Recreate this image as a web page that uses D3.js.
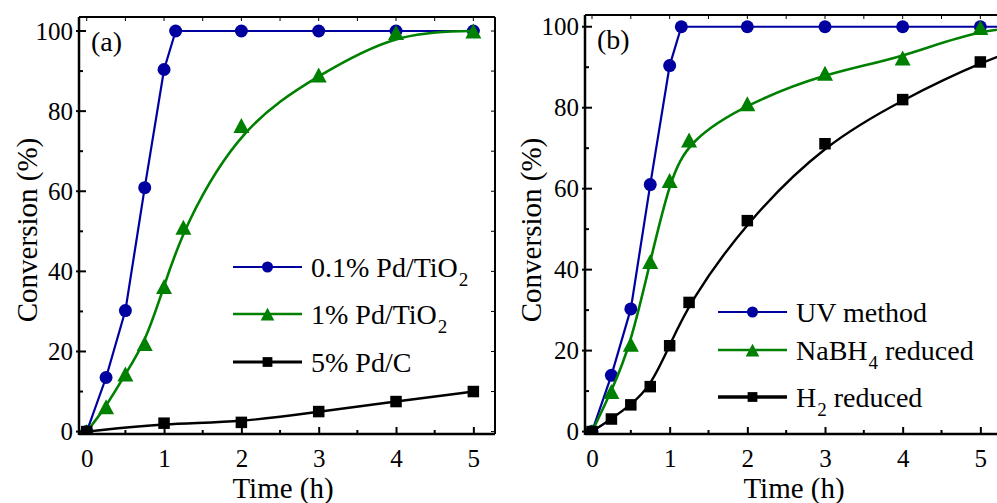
<!DOCTYPE html>
<html><head><meta charset="utf-8">
<script src="https://cdn.jsdelivr.net/npm/d3@7"></script>
<style>body{margin:0;background:#fff}svg{display:block}text{font-family:"Liberation Serif","Times New Roman",serif;fill:#000}</style>
</head><body><svg id="c" width="997" height="503"></svg>
<script>
// Panel (a)
const timeA = [0, 0.25, 0.5, 0.75, 1, 1.15, 2, 3, 4, 5];
const pd01A = [0, 13.5, 30.2, 60.9, 90.4, 100, 100, 100, 100, 100];
const timeA2 = [0, 0.25, 0.5, 0.75, 1, 1.25, 2, 3, 4, 5];
const pd1A = [0, 6.2, 14.4, 22, 36.2, 51, 76.4, 89, 99.6, 100];
const timeA3 = [0, 1, 2, 3, 4, 5];
const pdcA = [0, 2.1, 2.3, 5, 7.5, 10];
const legendA = ["0.1% Pd/TiO|2", "1% Pd/TiO|2", "5% Pd/C"];
// Panel (b)
const timeB1 = [0, 0.25, 0.5, 0.75, 1, 1.15, 2, 3, 4, 5, 6];
const uvB = [0, 13.9, 30.3, 61, 90.4, 100, 100, 100, 100, 100, 100];
const timeB2 = [0, 0.25, 0.5, 0.75, 1, 1.25, 2, 3, 4, 5, 6];
const nabhB = [0, 9.9, 21.6, 42, 62, 72, 81, 88.5, 92.3, 99.8, 100];
const timeB3 = [0, 0.25, 0.5, 0.75, 1, 1.25, 2, 3, 4, 5, 6];
const h2B = [0, 3.1, 6.6, 11.1, 21.2, 31.9, 52.1, 71.1, 82, 91.3, 98];
const markerMaxB = 5;
const legendB = ["UV method", "NaBH|4| reduced", "H|2| reduced"];
const xTicks = [0, 1, 2, 3, 4, 5];
const yTicks = [0, 20, 40, 60, 80, 100];

const BLUE = "#0000a0", GREEN = "#008000", BLACK = "#000";
const svg = d3.select("#c");

function panel(cfg) {
  const g = svg.append("g");
  const x = d3.scaleLinear().domain(cfg.xd).range([cfg.L, cfg.R]);
  const y = d3.scaleLinear().domain(cfg.yd).range([cfg.B, cfg.T]);
  const clipId = "clip" + cfg.id;
  g.append("clipPath").attr("id", clipId).append("rect")
    .attr("x", cfg.L).attr("y", cfg.T).attr("width", cfg.R - cfg.L).attr("height", cfg.B - cfg.T);
  const plot = g.append("g").attr("clip-path", `url(#${clipId})`);

  cfg.series.forEach(s => {
    const pts = s.t.map((t, i) => [t, s.v[i]]);
    plot.append("path").datum(pts)
      .attr("fill", "none").attr("stroke", s.color).attr("stroke-width", s.lw)
      .attr("d", d3.line().x(d => x(d[0])).y(d => y(d[1])).curve(s.curve));
    const mk = pts.filter(d => d[0] <= cfg.markerMax);
    drawMarkers(plot, mk.map(d => [x(d[0]), y(d[1])]), s.shape, s.color, 1);
  });

  // frame
  const fr = g.append("g");
  fr.append("line").attr("x1", cfg.L).attr("x2", cfg.R).attr("y1", cfg.T).attr("y2", cfg.T).attr("stroke", "#000").attr("stroke-width", 2);
  fr.append("line").attr("x1", cfg.R).attr("x2", cfg.R).attr("y1", cfg.T).attr("y2", cfg.B).attr("stroke", "#000").attr("stroke-width", 2);

  // bottom axis
  const xa = g.append("g").attr("transform", `translate(0,${cfg.B})`)
    .call(d3.axisBottom(x).tickValues(xTicks).tickSize(-7).tickPadding(0).tickFormat(d3.format("d")));
  xa.select(".domain").attr("stroke-width", 2.5).attr("d", `M${cfg.L},0H${cfg.R}`);
  xa.selectAll(".tick line").attr("stroke-width", 2);
  xa.selectAll(".tick text").attr("font-size", 25).attr("y", 33).attr("dy", null);
  const xMinor = d3.range(0.5, 5.5, 1);
  g.append("g").selectAll("line").data(xMinor).join("line")
    .attr("x1", d => x(d)).attr("x2", d => x(d)).attr("y1", cfg.B).attr("y2", cfg.B - 4)
    .attr("stroke", "#000").attr("stroke-width", 2);
  // top ticks
  g.append("g").selectAll("line").data(d3.range(0, 5.5, 0.5)).join("line")
    .attr("x1", d => x(d)).attr("x2", d => x(d)).attr("y1", cfg.T).attr("y2", cfg.T + 4)
    .attr("stroke", "#000").attr("stroke-width", 1);
  // left axis
  const ya = g.append("g").attr("transform", `translate(${cfg.L},0)`)
    .call(d3.axisLeft(y).tickValues(yTicks).tickSize(0).tickPadding(6));
  ya.select(".domain").attr("stroke-width", 2.5).attr("d", `M0,${cfg.B + 1}V${cfg.T}`);
  ya.selectAll(".tick text").attr("font-size", 25);
  g.append("g").selectAll("line").data(yTicks).join("line")
    .attr("x1", cfg.L - 3).attr("x2", cfg.L + 7).attr("y1", d => y(d)).attr("y2", d => y(d))
    .attr("stroke", "#000").attr("stroke-width", 2);
  g.append("g").selectAll("line").data(d3.range(10, 100, 20)).join("line")
    .attr("x1", cfg.L).attr("x2", cfg.L + 4).attr("y1", d => y(d)).attr("y2", d => y(d))
    .attr("stroke", "#000").attr("stroke-width", 2);
  g.append("g").selectAll("line").data(d3.range(0, 101, 10)).join("line")
    .attr("x1", cfg.R).attr("x2", cfg.R - 4).attr("y1", d => y(d)).attr("y2", d => y(d))
    .attr("stroke", "#000").attr("stroke-width", 1);

  // titles
  g.append("text").attr("x", (cfg.L + cfg.R) / 2 - cfg.xTitleShift).attr("y", 498)
    .attr("text-anchor", "middle").attr("font-size", 29).text("Time (h)");
  g.append("text").attr("transform", `translate(${cfg.yTitleX},230) rotate(-90)`)
    .attr("text-anchor", "middle").attr("font-size", 29).text("Conversion (%)");
  g.append("text").attr("x", cfg.L + 12).attr("y", cfg.T + 34).attr("font-size", 28).text(cfg.label);

  // legend
  cfg.series.forEach((s, i) => {
    const ly = cfg.legY[i];
    g.append("line").attr("x1", cfg.legX).attr("x2", cfg.legX + 69).attr("y1", ly).attr("y2", ly)
      .attr("stroke", s.color).attr("stroke-width", s.legLw);
    drawMarkers(g, [[cfg.legX + 34.5, ly]], s.shape, s.color, 0.85);
    const t = g.append("text").attr("x", cfg.legX + 78).attr("y", ly + 10).attr("font-size", 28);
    cfg.legend[i].split("|").forEach((part, k) => {
      const sub = k % 2 === 1;
      t.append("tspan").attr("font-size", sub ? 19 : 28).attr("dy", sub ? 9 : (k > 0 ? -9 : 0))
        .attr("dx", sub ? 1 : 0).text(part);
    });
  });
}

function drawMarkers(sel, pts, shape, color, k) {
  pts.forEach(([px, py]) => {
    if (shape === "circle") {
      sel.append("circle").attr("cx", px).attr("cy", py).attr("r", 6.5 * k).attr("fill", color);
    } else if (shape === "tri") {
      const h = 15 * k, w = 16 * k;
      sel.append("path").attr("fill", color)
        .attr("d", `M${px},${py - h / 2}L${px + w / 2},${py + h / 2}L${px - w / 2},${py + h / 2}Z`);
    } else {
      const s = 11.5 * k;
      sel.append("rect").attr("x", px - s / 2).attr("y", py - s / 2).attr("width", s).attr("height", s).attr("fill", color);
    }
  });
}

panel({
  id: "a", L: 79, R: 495, T: 17, B: 434, xd: [-0.1, 5.28], yd: [-0.6, 103.5], markerMax: 5,
  label: "(a)", yTitleX: 37, xTitleShift: 4,
  legX: 233, legY: [267, 314, 362], legend: legendA,
  series: [
    { t: timeA, v: pd01A, color: BLUE, lw: 2.2, legLw: 2.2, shape: "circle", curve: d3.curveLinear },
    { t: timeA2, v: pd1A, color: GREEN, lw: 2.6, legLw: 2.4, shape: "tri", curve: d3.curveBasis },
    { t: timeA3, v: pdcA, color: BLACK, lw: 2.4, legLw: 3, shape: "sq", curve: d3.curveBasis }
  ]
});
panel({
  id: "b", L: 585, R: 1001, T: 15, B: 434, xd: [-0.09, 5.266], yd: [-0.6, 102.9], markerMax: markerMaxB,
  label: "(b)", yTitleX: 541, xTitleShift: -1,
  legX: 718, legY: [312, 350, 397], legend: legendB,
  series: [
    { t: timeB1, v: uvB, color: BLUE, lw: 2.2, legLw: 2.2, shape: "circle", curve: d3.curveLinear },
    { t: timeB2, v: nabhB, color: GREEN, lw: 2.6, legLw: 2.4, shape: "tri", curve: d3.curveBasis },
    { t: timeB3, v: h2B, color: BLACK, lw: 2.4, legLw: 3.5, shape: "sq", curve: d3.curveBasis }
  ]
});
</script></body></html>
